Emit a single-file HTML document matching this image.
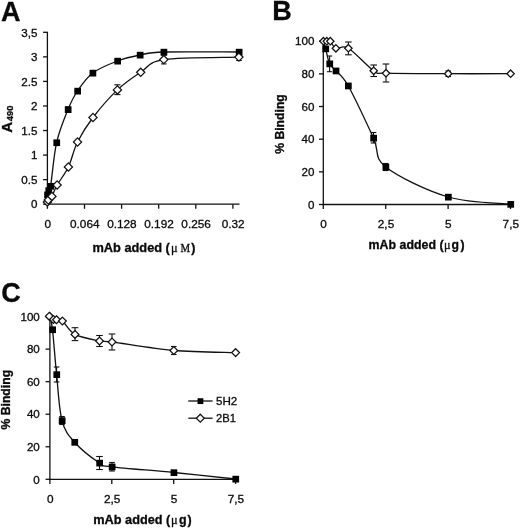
<!DOCTYPE html>
<html><head><meta charset="utf-8"><title>Figure</title>
<style>
html,body{margin:0;padding:0;background:#fff;}
svg{display:block;filter:blur(0.4px);}
svg text{font-family:"Liberation Sans",Arial,sans-serif;fill:#0a0a0a;stroke:#0a0a0a;stroke-width:0.3px;}
svg text.serif{font-family:"Liberation Serif","DejaVu Serif",serif;}
</style></head><body>
<svg width="520" height="530" viewBox="0 0 520 530">
<rect width="520" height="530" fill="#fff"/>
<line x1="47.40" y1="31.80" x2="47.40" y2="204.70" stroke="#111" stroke-width="1.30"/>
<line x1="46.90" y1="204.20" x2="239.50" y2="204.20" stroke="#111" stroke-width="1.30"/>
<line x1="43.10" y1="204.20" x2="47.40" y2="204.20" stroke="#111" stroke-width="1.30"/>
<text x="37.40" y="208.40" font-size="11.60" text-anchor="end">0</text>
<line x1="43.10" y1="179.64" x2="47.40" y2="179.64" stroke="#111" stroke-width="1.30"/>
<text x="37.40" y="183.84" font-size="11.60" text-anchor="end">0.5</text>
<line x1="43.10" y1="155.09" x2="47.40" y2="155.09" stroke="#111" stroke-width="1.30"/>
<text x="37.40" y="159.29" font-size="11.60" text-anchor="end">1</text>
<line x1="43.10" y1="130.53" x2="47.40" y2="130.53" stroke="#111" stroke-width="1.30"/>
<text x="37.40" y="134.73" font-size="11.60" text-anchor="end">1.5</text>
<line x1="43.10" y1="105.97" x2="47.40" y2="105.97" stroke="#111" stroke-width="1.30"/>
<text x="37.40" y="110.17" font-size="11.60" text-anchor="end">2</text>
<line x1="43.10" y1="81.41" x2="47.40" y2="81.41" stroke="#111" stroke-width="1.30"/>
<text x="37.40" y="85.61" font-size="11.60" text-anchor="end">2.5</text>
<line x1="43.10" y1="56.86" x2="47.40" y2="56.86" stroke="#111" stroke-width="1.30"/>
<text x="37.40" y="61.06" font-size="11.60" text-anchor="end">3</text>
<line x1="43.10" y1="32.30" x2="47.40" y2="32.30" stroke="#111" stroke-width="1.30"/>
<text x="37.40" y="36.50" font-size="11.60" text-anchor="end">3,5</text>
<line x1="47.40" y1="204.20" x2="47.40" y2="208.80" stroke="#111" stroke-width="1.30"/>
<text x="47.70" y="227.60" font-size="11.80" text-anchor="middle">0</text>
<line x1="84.50" y1="204.20" x2="84.50" y2="208.80" stroke="#111" stroke-width="1.30"/>
<text x="84.80" y="227.60" font-size="11.80" text-anchor="middle">0.064</text>
<line x1="121.60" y1="204.20" x2="121.60" y2="208.80" stroke="#111" stroke-width="1.30"/>
<text x="121.90" y="227.60" font-size="11.80" text-anchor="middle">0.128</text>
<line x1="158.70" y1="204.20" x2="158.70" y2="208.80" stroke="#111" stroke-width="1.30"/>
<text x="159.00" y="227.60" font-size="11.80" text-anchor="middle">0.192</text>
<line x1="195.80" y1="204.20" x2="195.80" y2="208.80" stroke="#111" stroke-width="1.30"/>
<text x="196.10" y="227.60" font-size="11.80" text-anchor="middle">0.256</text>
<line x1="232.90" y1="204.20" x2="232.90" y2="208.80" stroke="#111" stroke-width="1.30"/>
<text x="233.20" y="227.60" font-size="11.80" text-anchor="middle">0.32</text>
<path d="M47.40,194.80 C47.60,194.08 48.07,191.93 48.60,190.50 C49.13,189.07 49.27,194.18 50.60,186.20 C51.93,178.22 53.70,155.38 56.60,142.60 C59.50,129.82 64.52,118.10 68.00,109.50 C71.48,100.90 73.38,97.08 77.50,91.00 C81.62,84.92 86.08,78.00 92.75,73.00 C99.42,68.00 109.62,64.00 117.50,61.00 C125.38,58.00 132.29,56.50 140.00,55.00 C147.71,53.50 147.25,52.50 163.75,52.00 C180.25,51.50 226.46,52.00 239.00,52.00" fill="none" stroke="#111" stroke-width="1.30"/>
<path d="M47.40,202.00 C47.55,201.67 47.55,200.93 48.30,200.00 C49.05,199.07 50.43,198.90 51.90,196.40 C53.37,193.90 54.35,189.90 57.10,185.00 C59.85,180.10 65.00,174.17 68.40,167.00 C71.80,159.83 73.40,150.25 77.50,142.00 C81.60,133.75 86.35,126.18 93.00,117.50 C99.65,108.82 109.45,97.43 117.40,89.90 C125.35,82.37 132.97,77.35 140.70,72.30 C148.43,67.25 147.43,62.13 163.80,59.60 C180.17,57.07 226.38,57.52 238.90,57.10" fill="none" stroke="#111" stroke-width="1.30"/>
<line x1="117.40" y1="84.80" x2="117.40" y2="94.60" stroke="#111" stroke-width="1.10"/>
<line x1="114.30" y1="84.80" x2="120.50" y2="84.80" stroke="#111" stroke-width="1.10"/>
<line x1="114.30" y1="94.60" x2="120.50" y2="94.60" stroke="#111" stroke-width="1.10"/>
<line x1="163.80" y1="55.20" x2="163.80" y2="63.90" stroke="#111" stroke-width="1.10"/>
<line x1="161.00" y1="55.20" x2="166.60" y2="55.20" stroke="#111" stroke-width="1.10"/>
<line x1="161.00" y1="63.90" x2="166.60" y2="63.90" stroke="#111" stroke-width="1.10"/>
<line x1="239.00" y1="54.00" x2="239.00" y2="60.50" stroke="#111" stroke-width="1.10"/>
<line x1="236.20" y1="54.00" x2="241.80" y2="54.00" stroke="#111" stroke-width="1.10"/>
<line x1="236.20" y1="60.50" x2="241.80" y2="60.50" stroke="#111" stroke-width="1.10"/>
<line x1="92.75" y1="70.50" x2="92.75" y2="75.50" stroke="#111" stroke-width="1.10"/>
<line x1="90.45" y1="70.50" x2="95.05" y2="70.50" stroke="#111" stroke-width="1.10"/>
<line x1="90.45" y1="75.50" x2="95.05" y2="75.50" stroke="#111" stroke-width="1.10"/>
<line x1="68.00" y1="107.00" x2="68.00" y2="112.00" stroke="#111" stroke-width="1.10"/>
<line x1="65.70" y1="107.00" x2="70.30" y2="107.00" stroke="#111" stroke-width="1.10"/>
<line x1="65.70" y1="112.00" x2="70.30" y2="112.00" stroke="#111" stroke-width="1.10"/>
<rect x="44.20" y="191.60" width="6.70" height="6.70" fill="#000"/>
<rect x="45.40" y="187.30" width="6.70" height="6.70" fill="#000"/>
<rect x="47.40" y="183.00" width="6.70" height="6.70" fill="#000"/>
<rect x="53.40" y="139.40" width="6.70" height="6.70" fill="#000"/>
<rect x="64.80" y="106.30" width="6.70" height="6.70" fill="#000"/>
<rect x="74.30" y="87.80" width="6.70" height="6.70" fill="#000"/>
<rect x="89.55" y="69.80" width="6.70" height="6.70" fill="#000"/>
<rect x="114.30" y="57.80" width="6.70" height="6.70" fill="#000"/>
<rect x="136.80" y="51.80" width="6.70" height="6.70" fill="#000"/>
<rect x="160.55" y="48.80" width="6.70" height="6.70" fill="#000"/>
<rect x="235.80" y="48.80" width="6.70" height="6.70" fill="#000"/>
<path d="M47.40,197.90 L51.50,202.00 L47.40,206.10 L43.30,202.00 Z" fill="#fff" stroke="#111" stroke-width="1.25"/>
<path d="M48.30,195.90 L52.40,200.00 L48.30,204.10 L44.20,200.00 Z" fill="#fff" stroke="#111" stroke-width="1.25"/>
<path d="M51.90,192.30 L56.00,196.40 L51.90,200.50 L47.80,196.40 Z" fill="#fff" stroke="#111" stroke-width="1.25"/>
<path d="M57.10,180.90 L61.20,185.00 L57.10,189.10 L53.00,185.00 Z" fill="#fff" stroke="#111" stroke-width="1.25"/>
<path d="M68.40,162.90 L72.50,167.00 L68.40,171.10 L64.30,167.00 Z" fill="#fff" stroke="#111" stroke-width="1.25"/>
<path d="M77.50,137.90 L81.60,142.00 L77.50,146.10 L73.40,142.00 Z" fill="#fff" stroke="#111" stroke-width="1.25"/>
<path d="M93.00,113.40 L97.10,117.50 L93.00,121.60 L88.90,117.50 Z" fill="#fff" stroke="#111" stroke-width="1.25"/>
<path d="M117.40,85.80 L121.50,89.90 L117.40,94.00 L113.30,89.90 Z" fill="#fff" stroke="#111" stroke-width="1.25"/>
<path d="M140.70,68.20 L144.80,72.30 L140.70,76.40 L136.60,72.30 Z" fill="#fff" stroke="#111" stroke-width="1.25"/>
<path d="M163.80,55.50 L167.90,59.60 L163.80,63.70 L159.70,59.60 Z" fill="#fff" stroke="#111" stroke-width="1.25"/>
<path d="M238.90,53.00 L243.00,57.10 L238.90,61.20 L234.80,57.10 Z" fill="#fff" stroke="#111" stroke-width="1.25"/>
<text x="0.90" y="20.90" font-size="27.00" text-anchor="start" font-weight="bold">A</text>
<text transform="translate(12.3,132.8) rotate(-90)" font-weight="bold" font-size="15.3"><tspan textLength="11" lengthAdjust="spacingAndGlyphs">A</tspan><tspan font-size="9.8" dy="0.8" dx="0.6" textLength="15.7" lengthAdjust="spacingAndGlyphs">490</tspan></text>
<text x="92.4" y="251.9" font-size="12.4" font-weight="bold" textLength="77.5" lengthAdjust="spacingAndGlyphs">mAb added (</text>
<text x="170.9" y="251.9" font-size="12.4" class="serif">μ</text>
<text x="180.6" y="251.9" font-size="12" class="serif" textLength="9.6" lengthAdjust="spacingAndGlyphs">M</text>
<text x="191.2" y="251.9" font-size="12.4" font-weight="bold">)</text>
<line x1="323.30" y1="40.70" x2="323.30" y2="205.00" stroke="#111" stroke-width="1.30"/>
<line x1="322.80" y1="204.50" x2="510.60" y2="204.50" stroke="#111" stroke-width="1.30"/>
<line x1="319.00" y1="204.50" x2="323.30" y2="204.50" stroke="#111" stroke-width="1.30"/>
<text x="314.40" y="208.70" font-size="11.60" text-anchor="end">0</text>
<line x1="319.00" y1="171.84" x2="323.30" y2="171.84" stroke="#111" stroke-width="1.30"/>
<text x="314.40" y="176.04" font-size="11.60" text-anchor="end">20</text>
<line x1="319.00" y1="139.18" x2="323.30" y2="139.18" stroke="#111" stroke-width="1.30"/>
<text x="314.40" y="143.38" font-size="11.60" text-anchor="end">40</text>
<line x1="319.00" y1="106.52" x2="323.30" y2="106.52" stroke="#111" stroke-width="1.30"/>
<text x="314.40" y="110.72" font-size="11.60" text-anchor="end">60</text>
<line x1="319.00" y1="73.86" x2="323.30" y2="73.86" stroke="#111" stroke-width="1.30"/>
<text x="314.40" y="78.06" font-size="11.60" text-anchor="end">80</text>
<line x1="319.00" y1="41.20" x2="323.30" y2="41.20" stroke="#111" stroke-width="1.30"/>
<text x="314.40" y="45.40" font-size="11.60" text-anchor="end">100</text>
<line x1="323.30" y1="204.50" x2="323.30" y2="209.10" stroke="#111" stroke-width="1.30"/>
<text x="323.60" y="227.60" font-size="11.80" text-anchor="middle">0</text>
<line x1="385.70" y1="204.50" x2="385.70" y2="209.10" stroke="#111" stroke-width="1.30"/>
<text x="386.00" y="227.60" font-size="11.80" text-anchor="middle">2,5</text>
<line x1="448.10" y1="204.50" x2="448.10" y2="209.10" stroke="#111" stroke-width="1.30"/>
<text x="448.40" y="227.60" font-size="11.80" text-anchor="middle">5</text>
<line x1="510.50" y1="204.50" x2="510.50" y2="209.10" stroke="#111" stroke-width="1.30"/>
<text x="510.80" y="227.60" font-size="11.80" text-anchor="middle">7,5</text>
<path d="M323.30,41.20 C323.68,42.45 324.55,44.95 325.60,48.70 C326.65,52.45 327.88,60.02 329.60,63.70 C331.32,67.38 332.80,67.12 335.90,70.80 C339.00,74.48 341.93,74.60 348.20,85.80 C354.47,97.00 367.25,124.47 373.50,138.00 C379.75,151.53 373.25,157.17 385.70,167.00 C398.15,176.83 427.38,190.80 448.20,197.00 C469.02,203.20 500.20,203.00 510.60,204.20" fill="none" stroke="#111" stroke-width="1.30"/>
<path d="M323.40,41.20 C323.97,41.20 325.65,41.20 326.80,41.20 C327.95,41.20 328.78,40.02 330.30,41.20 C331.82,42.38 332.88,47.13 335.90,48.30 C338.92,49.47 342.10,44.45 348.40,48.20 C354.70,51.95 367.43,66.63 373.70,70.80 C379.97,74.97 373.58,72.72 386.00,73.20 C398.42,73.68 427.43,73.62 448.20,73.70 C468.97,73.78 500.20,73.70 510.60,73.70" fill="none" stroke="#111" stroke-width="1.30"/>
<line x1="329.60" y1="56.00" x2="329.60" y2="71.70" stroke="#111" stroke-width="1.10"/>
<line x1="327.00" y1="56.00" x2="332.20" y2="56.00" stroke="#111" stroke-width="1.10"/>
<line x1="327.00" y1="71.70" x2="332.20" y2="71.70" stroke="#111" stroke-width="1.10"/>
<line x1="373.50" y1="132.50" x2="373.50" y2="143.00" stroke="#111" stroke-width="1.10"/>
<line x1="370.70" y1="132.50" x2="376.30" y2="132.50" stroke="#111" stroke-width="1.10"/>
<line x1="370.70" y1="143.00" x2="376.30" y2="143.00" stroke="#111" stroke-width="1.10"/>
<line x1="385.70" y1="163.50" x2="385.70" y2="170.50" stroke="#111" stroke-width="1.10"/>
<line x1="382.90" y1="163.50" x2="388.50" y2="163.50" stroke="#111" stroke-width="1.10"/>
<line x1="382.90" y1="170.50" x2="388.50" y2="170.50" stroke="#111" stroke-width="1.10"/>
<line x1="448.20" y1="195.00" x2="448.20" y2="199.00" stroke="#111" stroke-width="1.10"/>
<line x1="445.90" y1="195.00" x2="450.50" y2="195.00" stroke="#111" stroke-width="1.10"/>
<line x1="445.90" y1="199.00" x2="450.50" y2="199.00" stroke="#111" stroke-width="1.10"/>
<line x1="348.40" y1="42.00" x2="348.40" y2="54.80" stroke="#111" stroke-width="1.10"/>
<line x1="345.10" y1="42.00" x2="351.70" y2="42.00" stroke="#111" stroke-width="1.10"/>
<line x1="345.10" y1="54.80" x2="351.70" y2="54.80" stroke="#111" stroke-width="1.10"/>
<line x1="373.70" y1="65.00" x2="373.70" y2="76.50" stroke="#111" stroke-width="1.10"/>
<line x1="370.40" y1="65.00" x2="377.00" y2="65.00" stroke="#111" stroke-width="1.10"/>
<line x1="370.40" y1="76.50" x2="377.00" y2="76.50" stroke="#111" stroke-width="1.10"/>
<line x1="386.00" y1="64.00" x2="386.00" y2="82.00" stroke="#111" stroke-width="1.10"/>
<line x1="382.70" y1="64.00" x2="389.30" y2="64.00" stroke="#111" stroke-width="1.10"/>
<line x1="382.70" y1="82.00" x2="389.30" y2="82.00" stroke="#111" stroke-width="1.10"/>
<line x1="448.20" y1="71.00" x2="448.20" y2="76.50" stroke="#111" stroke-width="1.10"/>
<line x1="445.40" y1="71.00" x2="451.00" y2="71.00" stroke="#111" stroke-width="1.10"/>
<line x1="445.40" y1="76.50" x2="451.00" y2="76.50" stroke="#111" stroke-width="1.10"/>
<rect x="322.40" y="45.50" width="6.70" height="6.70" fill="#000"/>
<rect x="326.40" y="60.50" width="6.70" height="6.70" fill="#000"/>
<rect x="332.70" y="67.60" width="6.70" height="6.70" fill="#000"/>
<rect x="345.00" y="82.60" width="6.70" height="6.70" fill="#000"/>
<rect x="370.30" y="134.80" width="6.70" height="6.70" fill="#000"/>
<rect x="382.50" y="163.80" width="6.70" height="6.70" fill="#000"/>
<rect x="445.00" y="193.80" width="6.70" height="6.70" fill="#000"/>
<rect x="507.40" y="201.00" width="6.70" height="6.70" fill="#000"/>
<path d="M323.40,37.50 L327.10,41.20 L323.40,44.90 L319.70,41.20 Z" fill="#fff" stroke="#111" stroke-width="1.25"/>
<path d="M326.80,37.50 L330.50,41.20 L326.80,44.90 L323.10,41.20 Z" fill="#fff" stroke="#111" stroke-width="1.25"/>
<path d="M330.30,37.50 L334.00,41.20 L330.30,44.90 L326.60,41.20 Z" fill="#fff" stroke="#111" stroke-width="1.25"/>
<path d="M335.90,44.60 L339.60,48.30 L335.90,52.00 L332.20,48.30 Z" fill="#fff" stroke="#111" stroke-width="1.25"/>
<path d="M348.40,44.50 L352.10,48.20 L348.40,51.90 L344.70,48.20 Z" fill="#fff" stroke="#111" stroke-width="1.25"/>
<path d="M373.70,67.10 L377.40,70.80 L373.70,74.50 L370.00,70.80 Z" fill="#fff" stroke="#111" stroke-width="1.25"/>
<path d="M386.00,69.50 L389.70,73.20 L386.00,76.90 L382.30,73.20 Z" fill="#fff" stroke="#111" stroke-width="1.25"/>
<path d="M448.20,70.00 L451.90,73.70 L448.20,77.40 L444.50,73.70 Z" fill="#fff" stroke="#111" stroke-width="1.25"/>
<path d="M510.60,70.00 L514.30,73.70 L510.60,77.40 L506.90,73.70 Z" fill="#fff" stroke="#111" stroke-width="1.25"/>
<text x="272.20" y="19.80" font-size="27.00" text-anchor="start" font-weight="bold">B</text>
<text transform="translate(284.1,153.8) rotate(-90)" font-weight="bold" font-size="12.2" textLength="59.6" lengthAdjust="spacingAndGlyphs">% Binding</text>
<text x="368.60" y="249.40" font-size="12.20" font-weight="bold" textLength="75.00" lengthAdjust="spacingAndGlyphs">mAb added (</text>
<text x="444.00" y="249.40" font-size="12.20" class="serif">μ</text>
<text x="451.50" y="249.40" font-size="12.20" font-weight="bold">g</text>
<text x="460.60" y="249.40" font-size="12.20" font-weight="bold">)</text>
<line x1="49.90" y1="316.10" x2="49.90" y2="479.80" stroke="#111" stroke-width="1.30"/>
<line x1="49.40" y1="479.30" x2="235.60" y2="479.30" stroke="#111" stroke-width="1.30"/>
<line x1="45.60" y1="479.30" x2="49.90" y2="479.30" stroke="#111" stroke-width="1.30"/>
<text x="39.80" y="483.50" font-size="11.60" text-anchor="end">0</text>
<line x1="45.60" y1="446.76" x2="49.90" y2="446.76" stroke="#111" stroke-width="1.30"/>
<text x="39.80" y="450.96" font-size="11.60" text-anchor="end">20</text>
<line x1="45.60" y1="414.22" x2="49.90" y2="414.22" stroke="#111" stroke-width="1.30"/>
<text x="39.80" y="418.42" font-size="11.60" text-anchor="end">40</text>
<line x1="45.60" y1="381.68" x2="49.90" y2="381.68" stroke="#111" stroke-width="1.30"/>
<text x="39.80" y="385.88" font-size="11.60" text-anchor="end">60</text>
<line x1="45.60" y1="349.14" x2="49.90" y2="349.14" stroke="#111" stroke-width="1.30"/>
<text x="39.80" y="353.34" font-size="11.60" text-anchor="end">80</text>
<line x1="45.60" y1="316.60" x2="49.90" y2="316.60" stroke="#111" stroke-width="1.30"/>
<text x="39.80" y="320.80" font-size="11.60" text-anchor="end">100</text>
<line x1="49.90" y1="479.30" x2="49.90" y2="483.90" stroke="#111" stroke-width="1.30"/>
<text x="50.20" y="502.50" font-size="11.80" text-anchor="middle">0</text>
<line x1="111.80" y1="479.30" x2="111.80" y2="483.90" stroke="#111" stroke-width="1.30"/>
<text x="112.10" y="502.50" font-size="11.80" text-anchor="middle">2,5</text>
<line x1="173.70" y1="479.30" x2="173.70" y2="483.90" stroke="#111" stroke-width="1.30"/>
<text x="174.00" y="502.50" font-size="11.80" text-anchor="middle">5</text>
<line x1="235.60" y1="479.30" x2="235.60" y2="483.90" stroke="#111" stroke-width="1.30"/>
<text x="235.90" y="502.50" font-size="11.80" text-anchor="middle">7,5</text>
<path d="M49.90,316.60 C50.33,318.77 51.38,319.95 52.50,329.60 C53.62,339.25 55.02,359.35 56.60,374.50 C58.18,389.65 59.00,409.22 62.00,420.50 C65.00,431.78 68.35,435.12 74.60,442.20 C80.85,449.28 93.27,458.90 99.50,463.00 C105.73,467.10 99.62,465.22 112.00,466.80 C124.38,468.38 153.20,470.47 173.80,472.50 C194.40,474.53 225.30,477.92 235.60,479.00" fill="none" stroke="#111" stroke-width="1.30"/>
<path d="M49.90,316.80 C49.80,316.70 48.70,315.75 49.30,316.20 C49.90,316.65 52.30,318.92 53.50,319.50 C54.70,320.08 55.02,319.45 56.50,319.70 C57.98,319.95 59.32,318.55 62.40,321.00 C65.48,323.45 68.82,331.07 75.00,334.40 C81.18,337.73 93.33,339.73 99.50,341.00 C105.67,342.27 99.62,340.42 112.00,342.00 C124.38,343.58 153.20,348.73 173.80,350.50 C194.40,352.27 225.30,352.25 235.60,352.60" fill="none" stroke="#111" stroke-width="1.30"/>
<line x1="56.60" y1="367.00" x2="56.60" y2="382.00" stroke="#111" stroke-width="1.10"/>
<line x1="53.80" y1="367.00" x2="59.40" y2="367.00" stroke="#111" stroke-width="1.10"/>
<line x1="53.80" y1="382.00" x2="59.40" y2="382.00" stroke="#111" stroke-width="1.10"/>
<line x1="62.00" y1="416.50" x2="62.00" y2="424.50" stroke="#111" stroke-width="1.10"/>
<line x1="59.20" y1="416.50" x2="64.80" y2="416.50" stroke="#111" stroke-width="1.10"/>
<line x1="59.20" y1="424.50" x2="64.80" y2="424.50" stroke="#111" stroke-width="1.10"/>
<line x1="99.50" y1="456.50" x2="99.50" y2="469.50" stroke="#111" stroke-width="1.10"/>
<line x1="96.20" y1="456.50" x2="102.80" y2="456.50" stroke="#111" stroke-width="1.10"/>
<line x1="96.20" y1="469.50" x2="102.80" y2="469.50" stroke="#111" stroke-width="1.10"/>
<line x1="112.00" y1="462.50" x2="112.00" y2="471.00" stroke="#111" stroke-width="1.10"/>
<line x1="109.20" y1="462.50" x2="114.80" y2="462.50" stroke="#111" stroke-width="1.10"/>
<line x1="109.20" y1="471.00" x2="114.80" y2="471.00" stroke="#111" stroke-width="1.10"/>
<line x1="75.00" y1="327.70" x2="75.00" y2="340.60" stroke="#111" stroke-width="1.10"/>
<line x1="71.70" y1="327.70" x2="78.30" y2="327.70" stroke="#111" stroke-width="1.10"/>
<line x1="71.70" y1="340.60" x2="78.30" y2="340.60" stroke="#111" stroke-width="1.10"/>
<line x1="99.50" y1="335.50" x2="99.50" y2="346.50" stroke="#111" stroke-width="1.10"/>
<line x1="96.20" y1="335.50" x2="102.80" y2="335.50" stroke="#111" stroke-width="1.10"/>
<line x1="96.20" y1="346.50" x2="102.80" y2="346.50" stroke="#111" stroke-width="1.10"/>
<line x1="112.00" y1="334.00" x2="112.00" y2="350.00" stroke="#111" stroke-width="1.10"/>
<line x1="108.70" y1="334.00" x2="115.30" y2="334.00" stroke="#111" stroke-width="1.10"/>
<line x1="108.70" y1="350.00" x2="115.30" y2="350.00" stroke="#111" stroke-width="1.10"/>
<line x1="173.80" y1="346.50" x2="173.80" y2="354.50" stroke="#111" stroke-width="1.10"/>
<line x1="171.00" y1="346.50" x2="176.60" y2="346.50" stroke="#111" stroke-width="1.10"/>
<line x1="171.00" y1="354.50" x2="176.60" y2="354.50" stroke="#111" stroke-width="1.10"/>
<rect x="49.30" y="326.40" width="6.70" height="6.70" fill="#000"/>
<rect x="53.40" y="371.30" width="6.70" height="6.70" fill="#000"/>
<rect x="58.80" y="417.30" width="6.70" height="6.70" fill="#000"/>
<rect x="71.40" y="439.00" width="6.70" height="6.70" fill="#000"/>
<rect x="96.30" y="459.80" width="6.70" height="6.70" fill="#000"/>
<rect x="108.80" y="463.60" width="6.70" height="6.70" fill="#000"/>
<rect x="170.60" y="469.30" width="6.70" height="6.70" fill="#000"/>
<rect x="232.40" y="475.80" width="6.70" height="6.70" fill="#000"/>
<path d="M49.90,312.90 L53.80,316.80 L49.90,320.70 L46.00,316.80 Z" fill="#fff" stroke="#111" stroke-width="1.25"/>
<path d="M49.30,312.30 L53.20,316.20 L49.30,320.10 L45.40,316.20 Z" fill="#fff" stroke="#111" stroke-width="1.25"/>
<path d="M53.50,315.60 L57.40,319.50 L53.50,323.40 L49.60,319.50 Z" fill="#fff" stroke="#111" stroke-width="1.25"/>
<path d="M56.50,315.80 L60.40,319.70 L56.50,323.60 L52.60,319.70 Z" fill="#fff" stroke="#111" stroke-width="1.25"/>
<path d="M62.40,317.10 L66.30,321.00 L62.40,324.90 L58.50,321.00 Z" fill="#fff" stroke="#111" stroke-width="1.25"/>
<path d="M75.00,330.50 L78.90,334.40 L75.00,338.30 L71.10,334.40 Z" fill="#fff" stroke="#111" stroke-width="1.25"/>
<path d="M99.50,337.10 L103.40,341.00 L99.50,344.90 L95.60,341.00 Z" fill="#fff" stroke="#111" stroke-width="1.25"/>
<path d="M112.00,338.10 L115.90,342.00 L112.00,345.90 L108.10,342.00 Z" fill="#fff" stroke="#111" stroke-width="1.25"/>
<path d="M173.80,346.60 L177.70,350.50 L173.80,354.40 L169.90,350.50 Z" fill="#fff" stroke="#111" stroke-width="1.25"/>
<path d="M235.60,348.70 L239.50,352.60 L235.60,356.50 L231.70,352.60 Z" fill="#fff" stroke="#111" stroke-width="1.25"/>
<text x="1.30" y="302.20" font-size="27.00" text-anchor="start" font-weight="bold">C</text>
<text transform="translate(9.5,429.5) rotate(-90)" font-weight="bold" font-size="12.2" textLength="59.6" lengthAdjust="spacingAndGlyphs">% Binding</text>
<text x="93.30" y="524.00" font-size="12.40" font-weight="bold" textLength="77.00" lengthAdjust="spacingAndGlyphs">mAb added (</text>
<text x="170.90" y="524.00" font-size="12.40" class="serif">μ</text>
<text x="178.90" y="524.00" font-size="12.40" font-weight="bold">g</text>
<text x="187.40" y="524.00" font-size="12.40" font-weight="bold">)</text>
<line x1="188.30" y1="401.00" x2="212.60" y2="401.00" stroke="#111" stroke-width="1.30"/>
<rect x="197.55" y="398.25" width="5.80" height="5.80" fill="#000"/>
<line x1="188.30" y1="418.20" x2="212.60" y2="418.20" stroke="#111" stroke-width="1.30"/>
<path d="M200.30,414.20 L204.30,418.20 L200.30,422.20 L196.30,418.20 Z" fill="#fff" stroke="#111" stroke-width="1.25"/>
<text x="216.00" y="404.50" font-size="10.80" text-anchor="start" textLength="21.3" lengthAdjust="spacingAndGlyphs">5H2</text>
<text x="216.00" y="421.70" font-size="10.80" text-anchor="start" textLength="19.9" lengthAdjust="spacingAndGlyphs">2B1</text>
</svg>
</body></html>
